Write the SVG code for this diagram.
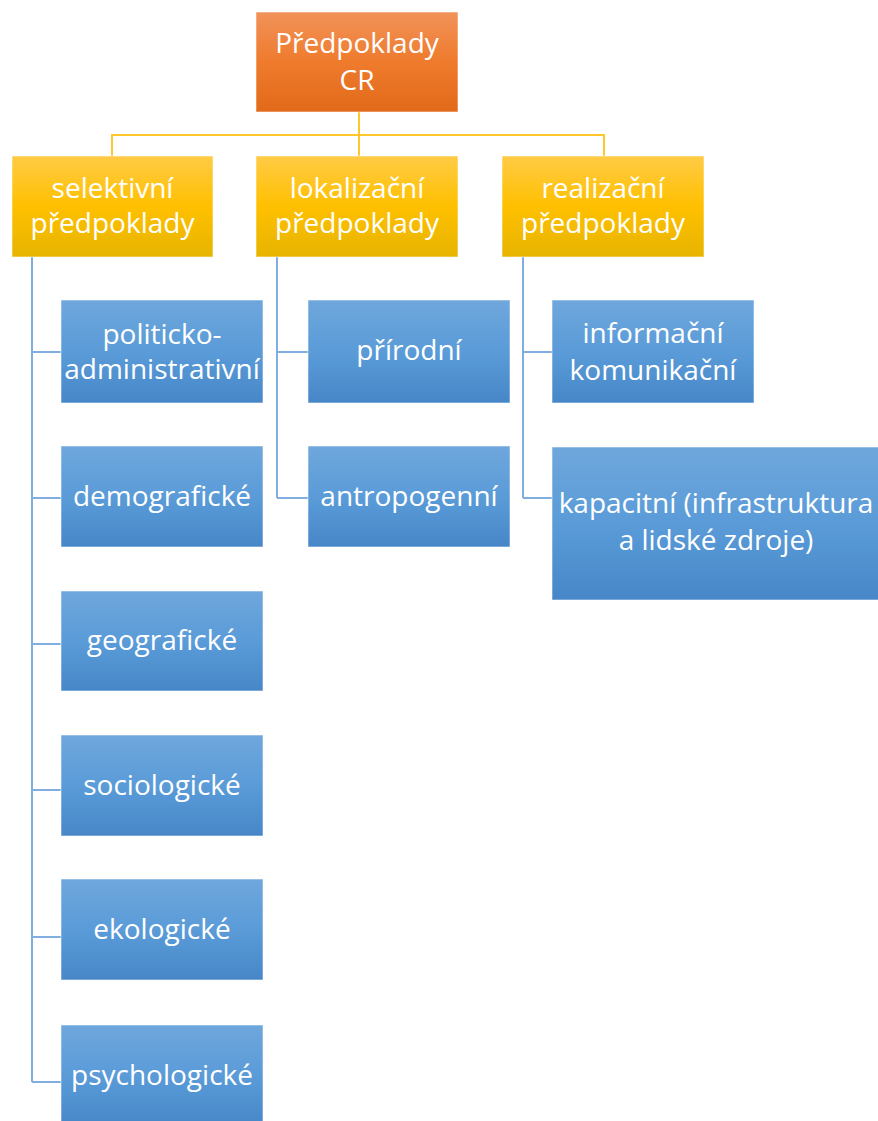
<svg xmlns="http://www.w3.org/2000/svg" width="878" height="1121" viewBox="0 0 878 1121">
<defs>
<linearGradient id="gOrange" x1="0" y1="0" x2="0" y2="1">
<stop offset="0" stop-color="#F1925A"/><stop offset="0.5" stop-color="#EF7B2C"/><stop offset="1" stop-color="#E2691A"/>
</linearGradient>
<linearGradient id="gYellow" x1="0" y1="0" x2="0" y2="1">
<stop offset="0" stop-color="#FFCB45"/><stop offset="0.5" stop-color="#FFC000"/><stop offset="1" stop-color="#E6B400"/>
</linearGradient>
<linearGradient id="gBlue" x1="0" y1="0" x2="0" y2="1">
<stop offset="0" stop-color="#6FA7DC"/><stop offset="0.5" stop-color="#5A9BD8"/><stop offset="1" stop-color="#4787C8"/>
</linearGradient>
</defs>
<style>
.box{stroke:#ffffff;stroke-opacity:0.55;stroke-width:1}
.o{fill:url(#gOrange)}
.y{fill:url(#gYellow)}
.b{fill:url(#gBlue)}
text{font-family:"Open Sans","Liberation Sans",sans-serif;font-size:28px;fill:#ffffff;text-anchor:middle}
.cy{stroke:#FFC72C;stroke-width:2;fill:none}
.cb{stroke:#80AEE0;stroke-width:2;fill:none}
</style>
<rect width="878" height="1121" fill="#ffffff"/>
<g id="connectors">
<path class="cy" d="M359,112V156M112,156V135H604V156"/>
<path class="cb" d="M32,257V1082M32,352H61M32,498H61M32,644H61M32,790H61M32,937H61M32,1082H61"/>
<path class="cb" d="M277,257V498M277,352H308M277,498H308"/>
<path class="cb" d="M523,257V498M523,352H552M523,498H552"/>
</g>
<g id="root"><rect class="box o" x="256" y="12" width="202" height="100"/><text x="357" y="53">Předpoklady</text><text x="357" y="90">CR</text></g>
<g id="selektivni"><rect class="box y" x="12" y="156" width="201" height="101"/><text x="112.5" y="198">selektivní</text><text x="112.5" y="233">předpoklady</text></g>
<g id="lokalizacni"><rect class="box y" x="256" y="156" width="202" height="101"/><text x="357" y="198">lokalizační</text><text x="357" y="233">předpoklady</text></g>
<g id="realizacni"><rect class="box y" x="502" y="156" width="202" height="101"/><text x="603" y="198">realizační</text><text x="603" y="233">předpoklady</text></g>
<g id="politicko"><rect class="box b" x="61" y="300" width="202" height="103"/><text x="162" y="344">politicko-</text><text x="162" y="379">administrativní</text></g>
<g id="demograficke"><rect class="box b" x="61" y="446" width="202" height="101"/><text x="162" y="506">demografické</text></g>
<g id="geograficke"><rect class="box b" x="61" y="591" width="202" height="100"/><text x="162" y="650">geografické</text></g>
<g id="sociologicke"><rect class="box b" x="61" y="735" width="202" height="101"/><text x="162" y="795">sociologické</text></g>
<g id="ekologicke"><rect class="box b" x="61" y="879" width="202" height="101"/><text x="162" y="939">ekologické</text></g>
<g id="psychologicke"><rect class="box b" x="61" y="1025" width="202" height="101"/><text x="162" y="1085">psychologické</text></g>
<g id="prirodni"><rect class="box b" x="308" y="300" width="202" height="103"/><text x="409" y="360">přírodní</text></g>
<g id="antropogenni"><rect class="box b" x="308" y="446" width="202" height="101"/><text x="409" y="506">antropogenní</text></g>
<g id="informacni"><rect class="box b" x="552" y="300" width="202" height="103"/><text x="653" y="343">informační</text><text x="653" y="380">komunikační</text></g>
<g id="kapacitni"><rect class="box b" x="552" y="447" width="328" height="153"/><text x="716" y="513">kapacitní (infrastruktura</text><text x="716" y="550">a lidské zdroje)</text></g>
</svg>
